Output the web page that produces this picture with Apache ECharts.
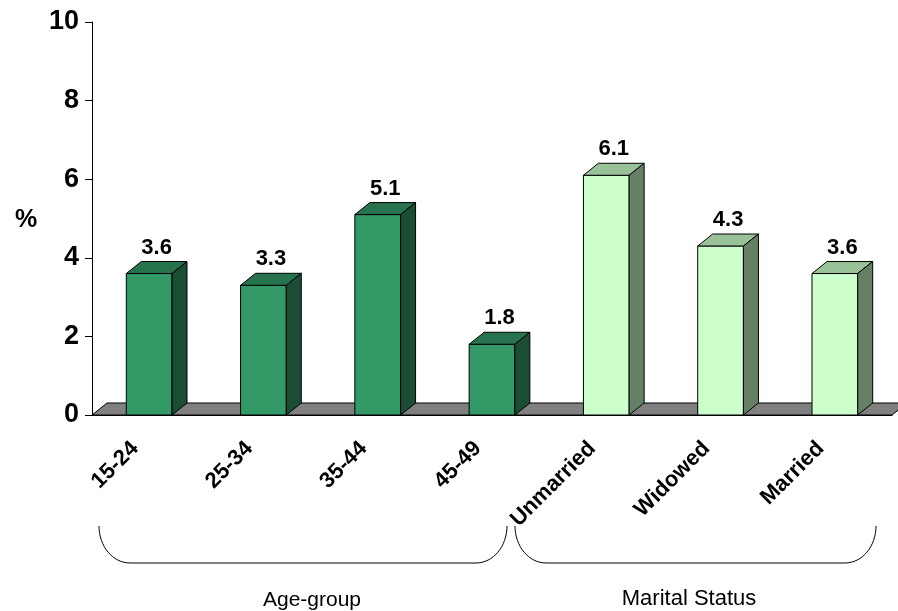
<!DOCTYPE html>
<html>
<head>
<meta charset="utf-8">
<script src="https://cdn.jsdelivr.net/npm/echarts@6/dist/echarts.min.js"></script>
<style>
  html, body { margin: 0; padding: 0; background: #fff; }
  #chart { width: 898px; height: 611px; }
</style>
</head>
<body>
<div id="chart"></div>
<script>
const ageGroups = ['15-24', '25-34', '35-44', '45-49']
const ageValues = [3.6, 3.3, 5.1, 1.8]
const maritalGroups = ['Unmarried', 'Widowed', 'Married']
const maritalValues = [6.1, 4.3, 3.6]
const yTicks = [0, 2, 4, 6, 8, 10]

const categories = ageGroups.concat(maritalGroups)
const values = ageValues.concat(maritalValues)

// 3d depth offset of bars and floor
const DX = 15
const DY = -12
const palettes = {
  age: { front: '#339966', top: '#26734d', side: '#1a4d33' },
  marital: { front: '#ccffcc', top: '#99c299', side: '#668066' },
}
const edge = { stroke: '#000', lineWidth: 1 }
const font = 'Arial, "Liberation Sans", sans-serif'

function renderFloor(params) {
  const c = params.coordSys
  const y = c.y + c.height
  return {
    type: 'polygon',
    shape: { points: [[c.x, y], [c.x + c.width, y], [c.x + c.width + DX, y + DY], [c.x + DX, y + DY]] },
    style: { fill: '#808080', ...edge },
  }
}

function renderBar(params, api) {
  const idx = api.value(0)
  const val = api.value(1)
  const top = api.coord([idx, val])
  const base = api.coord([idx, 0])
  const w = api.size([1, 0])[0] * 0.4
  const x0 = top[0] - w / 2
  const x1 = top[0] + w / 2
  const yt = top[1]
  const yb = base[1]
  const pal = idx < ageGroups.length ? palettes.age : palettes.marital
  return {
    type: 'group',
    children: [
      {
        type: 'polygon',
        shape: { points: [[x0, yb], [x1, yb], [x1, yt], [x0, yt]] },
        style: { fill: pal.front, ...edge },
      },
      {
        type: 'polygon',
        shape: { points: [[x0, yt], [x1, yt], [x1 + DX, yt + DY], [x0 + DX, yt + DY]] },
        style: { fill: pal.top, ...edge },
      },
      {
        type: 'polygon',
        shape: { points: [[x1, yb], [x1 + DX, yb + DY], [x1 + DX, yt + DY], [x1, yt]] },
        style: { fill: pal.side, ...edge },
      },
      {
        type: 'text',
        style: {
          text: val.toFixed(1),
          x: top[0] + DX / 2,
          y: yt + DY - 3,
          align: 'center',
          verticalAlign: 'bottom',
          font: 'bold 22px ' + font,
          fill: '#000',
        },
      },
    ],
  }
}

function bracket(xl, xr, yTop, yBot) {
  const rx = 31
  const k = 0.552
  const ry = yBot - yTop
  const st = { fill: 'none', stroke: '#000', lineWidth: 1 }
  return [
    {
      type: 'bezierCurve',
      shape: { x1: xl, y1: yTop, cpx1: xl, cpy1: yTop + ry * k, cpx2: xl + rx * (1 - k), cpy2: yBot, x2: xl + rx, y2: yBot },
      style: st,
    },
    { type: 'line', shape: { x1: xl + rx, y1: yBot, x2: xr - rx, y2: yBot }, style: st },
    {
      type: 'bezierCurve',
      shape: { x1: xr - rx, y1: yBot, cpx1: xr - rx * (1 - k), cpy1: yBot, cpx2: xr, cpy2: yTop + ry * k, x2: xr, y2: yTop },
      style: st,
    },
  ]
}

const chart = echarts.init(document.getElementById('chart'))
chart.setOption({
  animation: false,
  grid: { left: 92, right: 6, top: 22, bottom: 196, outerBoundsMode: 'none' },
  xAxis: {
    type: 'category',
    data: categories,
    boundaryGap: true,
    axisLine: { lineStyle: { color: '#000', width: 1 } },
    axisTick: { length: 8, lineStyle: { color: '#000' } },
    axisLabel: {
      interval: 0,
      rotate: 45,
      margin: 16,
      padding: [0, 20, 0, 0],
      fontSize: 22,
      fontWeight: 'bold',
      fontFamily: font,
      color: '#000',
    },
  },
  yAxis: {
    type: 'value',
    min: yTicks[0],
    max: yTicks[yTicks.length - 1],
    interval: yTicks[1] - yTicks[0],
    axisLine: { show: true, lineStyle: { color: '#000', width: 1 } },
    axisTick: { show: true, length: 7, lineStyle: { color: '#000' } },
    axisLabel: { margin: 13, fontSize: 27, fontWeight: 'bold', fontFamily: font, color: '#000' },
    splitLine: { show: false },
  },
  graphic: [
    ...bracket(99, 507, 526, 563),
    ...bracket(515, 876, 526, 563),
    {
      type: 'text',
      x: 312,
      y: 600,
      style: { text: 'Age-group', font: '21px ' + font, fill: '#000', align: 'center', verticalAlign: 'middle' },
    },
    {
      type: 'text',
      x: 689,
      y: 599,
      style: { text: 'Marital Status', font: '22px ' + font, fill: '#000', align: 'center', verticalAlign: 'middle' },
    },
    {
      type: 'text',
      x: 26,
      y: 220,
      style: { text: '%', font: 'bold 25px ' + font, fill: '#000', align: 'center', verticalAlign: 'middle' },
    },
  ],
  series: [
    {
      type: 'custom',
      z: 1,
      data: [[0]],
      renderItem: renderFloor,
      silent: true,
    },
    {
      type: 'custom',
      z: 2,
      data: values.map((v, i) => [i, v]),
      encode: { x: 0, y: 1 },
      renderItem: renderBar,
    },
  ],
})
</script>
</body>
</html>
